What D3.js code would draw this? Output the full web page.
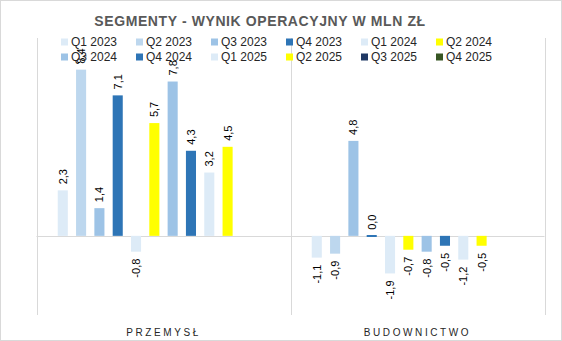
<!DOCTYPE html>
<html><head><meta charset="utf-8">
<script src="https://cdn.jsdelivr.net/npm/d3@7"></script>
<style>body{margin:0;background:#fff}svg{display:block}</style>
</head><body>
<svg id="c" width="562" height="341"></svg>
<script>
const categories = ["PRZEMYSŁ", "BUDOWNICTWO"];
const seriesNames = ["Q1 2023","Q2 2023","Q3 2023","Q4 2023","Q1 2024","Q2 2024","Q3 2024","Q4 2024","Q1 2025","Q2 2025","Q3 2025","Q4 2025"];
const seriesColors = ["#DDEBF7","#BDD7EE","#9DC3E6","#2E75B6","#DDEBF7","#FFFF00","#9DC3E6","#2E75B6","#DDEBF7","#FFFF00","#1F3864","#375623"];
const przemysl = [2.3, 8.4, 1.4, 7.1, -0.8, 5.7, 7.8, 4.3, 3.2, 4.5, null, null];
const budownictwo = [-1.1, -0.9, 4.8, 0.0, -1.9, -0.7, -0.8, -0.5, -1.2, -0.5, null, null];
const valuesByCategory = [przemysl, budownictwo];
const title = "SEGMENTY - WYNIK OPERACYJNY W MLN ZŁ";

const svg = d3.select("#c");
const font = "'Liberation Sans', Arial, sans-serif";

// outer border
svg.append("rect").attr("x",0.5).attr("y",0.5).attr("width",561).attr("height",340)
  .attr("fill","#fff").attr("stroke","#d9d9d9");

const plot = {left:36.5, right:544.5, top:38, bottom:315};
const x0 = d3.scaleBand().domain(categories).range([plot.left, plot.right]).paddingInner(0).paddingOuter(0);
const x1 = d3.scaleBand().domain(seriesNames).range([0, x0.bandwidth()]).paddingInner(0.45).paddingOuter(1.16);
const y = d3.scaleLinear().domain([-4, 10]).range([plot.bottom, plot.top]);

// vertical category separators
const seps = [plot.left, x0.range()[0] + x0.bandwidth(), plot.right];
svg.selectAll("line.sep").data(seps).enter().append("line")
  .attr("x1",d=>Math.round(d)+0.5).attr("x2",d=>Math.round(d)+0.5)
  .attr("y1",plot.top).attr("y2",plot.bottom)
  .attr("stroke","#d9d9d9").attr("stroke-width",1);

const flat = [];
categories.forEach((c,ci)=>seriesNames.forEach((s,si)=>{
  const v = valuesByCategory[ci][si];
  if (v !== null) flat.push({c, s, si, v});
}));

// zero line
svg.append("line").attr("x1",plot.left).attr("x2",plot.right)
  .attr("y1",Math.round(y(0))+0.5).attr("y2",Math.round(y(0))+0.5)
  .attr("stroke","#d9d9d9");

svg.selectAll("rect.bar").data(flat).enter().append("rect")
  .attr("x", d=>x0(d.c)+x1(d.s))
  .attr("width", x1.bandwidth())
  .attr("y", d=> d.v===0 ? Math.round(y(0))-1 : Math.min(y(d.v), y(0)))
  .attr("height", d=> d.v===0 ? 2 : Math.abs(y(d.v)-y(0)))
  .attr("fill", d=>seriesColors[d.si]);

// data labels
const fmt = v => d3.format(".1f")(v).replace(".", ",").replace("−","-");
svg.selectAll("text.lbl").data(flat).enter().append("text")
  .attr("transform", d=>{
    const cx = x0(d.c)+x1(d.s)+x1.bandwidth()/2;
    const yy = d.v >= 0 ? y(d.v)-6 : y(d.v)+7;
    return `translate(${cx},${yy}) rotate(-90)`;
  })
  .attr("text-anchor", d=> d.v>=0 ? "start" : "end")
  .attr("dominant-baseline","central")
  .attr("font-family", font).attr("font-size", 11).attr("fill","#000")
  .text(d=>fmt(d.v));

// legend
const lg = svg.append("g");
seriesNames.forEach((s,i)=>{
  const col = i%6, row = Math.floor(i/6);
  const lx = 61 + col*75, ly = 42 + row*15;
  lg.append("rect").attr("x",lx).attr("y",ly-3.5).attr("width",7).attr("height",7).attr("fill",seriesColors[i]);
  lg.append("text").attr("x",lx+10).attr("y",ly).attr("dominant-baseline","central")
    .attr("font-family",font).attr("font-size",12).attr("fill","#262626").text(s);
});

// title
svg.append("text").attr("x",260).attr("y",26).attr("text-anchor","middle")
  .attr("font-family",font).attr("font-size",14).attr("font-weight","bold")
  .attr("letter-spacing","0.6px").attr("fill","#595959").text(title);

// category labels
svg.selectAll("text.cat").data(categories).enter().append("text")
  .attr("x", d=>x0(d)+x0.bandwidth()/2).attr("y", 336)
  .attr("text-anchor","middle").attr("font-family",font).attr("font-size",10)
  .attr("letter-spacing","2.6px").attr("fill","#262626").text(d=>d);
</script>
</body></html>
